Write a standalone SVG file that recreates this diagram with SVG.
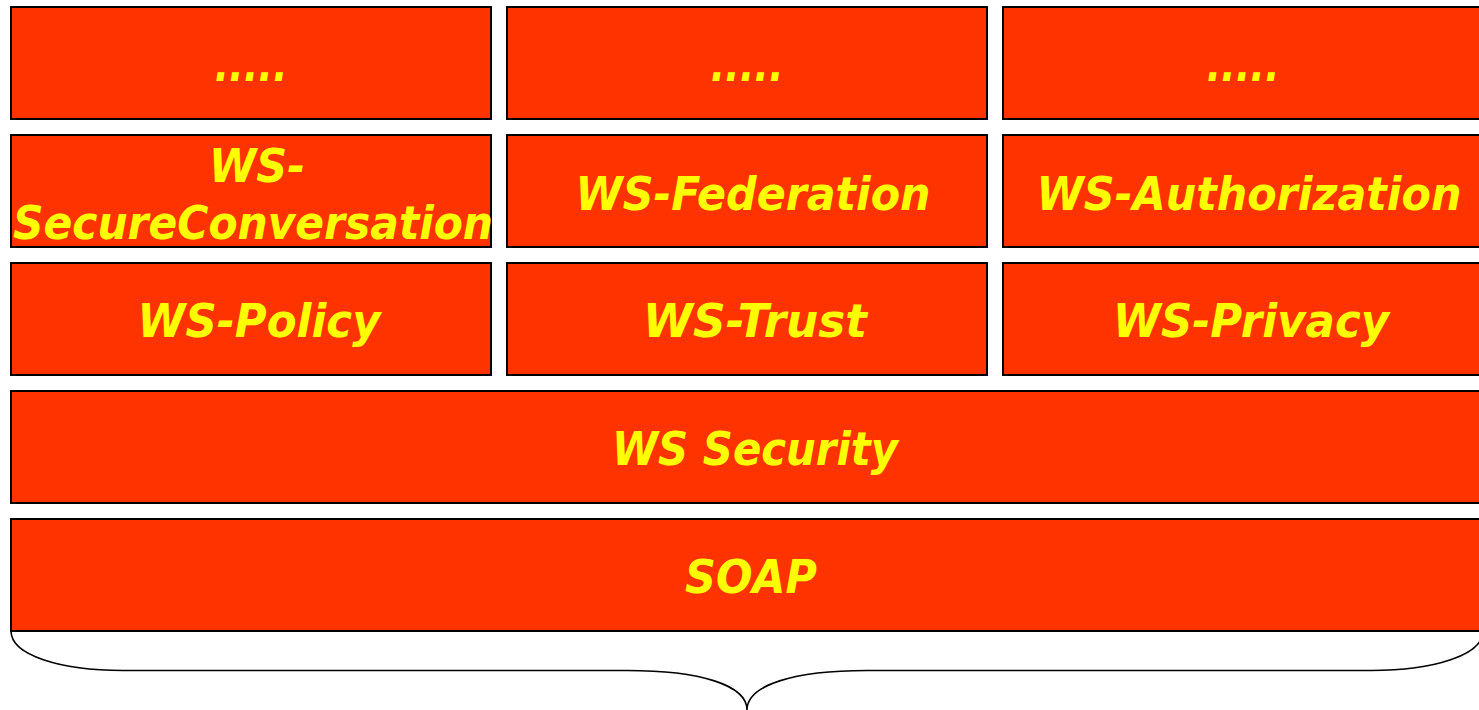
<svg xmlns="http://www.w3.org/2000/svg" width="1479" height="710" viewBox="0 0 1479 710">
<style>
.box{fill:#FF3300;stroke:#000;stroke-width:2}
.lbl{fill:#FFFF00;font-family:"DejaVu Sans","Liberation Sans",sans-serif;font-weight:bold;font-style:italic;font-size:46px;text-anchor:middle}
.brace{fill:none;stroke:#000;stroke-width:1.6}
</style>
<rect x="0" y="0" width="1479" height="710" fill="#fff"/>
<g id="dots1"><rect class="box" x="11" y="7" width="480" height="112"/><text class="lbl" x="251" y="81" textLength="73" lengthAdjust="spacingAndGlyphs">.....</text></g>
<g id="dots2"><rect class="box" x="507" y="7" width="480" height="112"/><text class="lbl" x="747" y="81" textLength="73" lengthAdjust="spacingAndGlyphs">.....</text></g>
<g id="dots3"><rect class="box" x="1003" y="7" width="480" height="112"/><text class="lbl" x="1243" y="81" textLength="73" lengthAdjust="spacingAndGlyphs">.....</text></g>
<g id="ws-secureconversation"><rect class="box" x="11" y="135" width="480" height="112"/><text class="lbl" x="257" y="182" textLength="96" lengthAdjust="spacingAndGlyphs">WS-</text><text class="lbl" x="253" y="239" textLength="480" lengthAdjust="spacingAndGlyphs">SecureConversation</text></g>
<g id="ws-federation"><rect class="box" x="507" y="135" width="480" height="112"/><text class="lbl" x="753" y="210" textLength="355" lengthAdjust="spacingAndGlyphs">WS-Federation</text></g>
<g id="ws-authorization"><rect class="box" x="1003" y="135" width="480" height="112"/><text class="lbl" x="1249" y="210" textLength="425" lengthAdjust="spacingAndGlyphs">WS-Authorization</text></g>
<g id="ws-policy"><rect class="box" x="11" y="263" width="480" height="112"/><text class="lbl" x="259" y="337" textLength="243" lengthAdjust="spacingAndGlyphs">WS-Policy</text></g>
<g id="ws-trust"><rect class="box" x="507" y="263" width="480" height="112"/><text class="lbl" x="755" y="337" textLength="224" lengthAdjust="spacingAndGlyphs">WS-Trust</text></g>
<g id="ws-privacy"><rect class="box" x="1003" y="263" width="480" height="112"/><text class="lbl" x="1251" y="337" textLength="276" lengthAdjust="spacingAndGlyphs">WS-Privacy</text></g>
<g id="ws-security"><rect class="box" x="11" y="391" width="1472" height="112"/><text class="lbl" x="755" y="465" textLength="286" lengthAdjust="spacingAndGlyphs">WS Security</text></g>
<g id="soap"><rect class="box" x="11" y="519" width="1472" height="112"/><text class="lbl" x="751" y="593" textLength="132" lengthAdjust="spacingAndGlyphs">SOAP</text></g>
<g id="connectors"><path class="brace" d="M11,631 C11,655 60,670.5 123,670.5 L627,670.5 C700,670.5 747,685 747,710 C747,685 794,670.5 867,670.5 L1371,670.5 C1434,670.5 1483,655 1483,631"/></g>
</svg>
